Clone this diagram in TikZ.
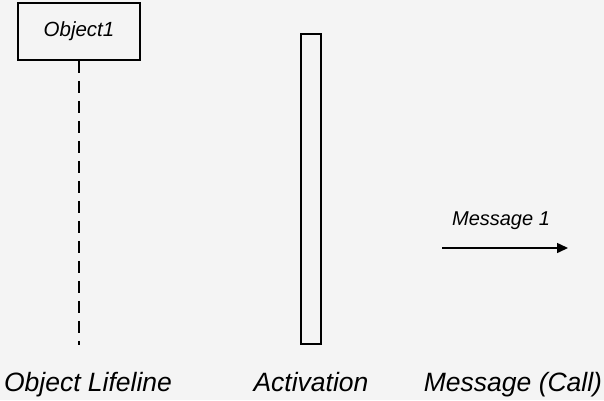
\documentclass[tikz,border=0pt]{standalone}
\usepackage{fontspec}
\setmainfont{Liberation Sans}
\usepackage{tikz}
\usetikzlibrary{positioning,arrows.meta}
\definecolor{paper}{RGB}{244,244,244}

\begin{document}
\begin{tikzpicture}[
    x=1pt, y=-1pt,
    objbox/.style={rectangle, draw=black, line width=1.5pt, minimum width=122pt, minimum height=57pt, inner sep=0pt, font=\fontsize{20.5}{22}\selectfont\itshape},
    actbar/.style={rectangle, draw=black, line width=1.5pt, minimum width=20pt, minimum height=310pt, inner sep=0pt},
    caption/.style={anchor=base, inner sep=0pt, font=\fontsize{26.5}{28}\selectfont\itshape},
    msglabel/.style={anchor=base, inner sep=0pt, font=\fontsize{20}{22}\selectfont\itshape}
    ]
        \fill[paper] (0,0) rectangle (604,400);
        \useasboundingbox (0,0) rectangle (604,400);

        %Nodes
        \node[objbox]
            (obj)   at (79,31.5)    {Object1};
        \node[actbar]
            (act)   at (311,189)    {};
        \coordinate (lifeend) at (79,345);
        \coordinate (msgstart) at (442,248);
        \coordinate (msgend) at (568,248);
        \node[msglabel]
            (msg)   at (501,225)    {Message 1};

        %Captions
        \node[caption]
            (capobj)    at (88,391)     {Object Lifeline};
        \node[caption]
            (capact)    at (311,391)    {Activation};
        \node[caption]
            (capmsg)    at (513,391)    {Message (Call)};

        %Lines
        \draw[line width=2pt, dash pattern=on 12pt off 8pt]
            (obj.south) -- (lifeend);
        \draw[-{Triangle[length=11pt, width=10pt]}, line width=1.5pt]
            (msgstart) -- (msgend);
    \end{tikzpicture}
\end{document}
